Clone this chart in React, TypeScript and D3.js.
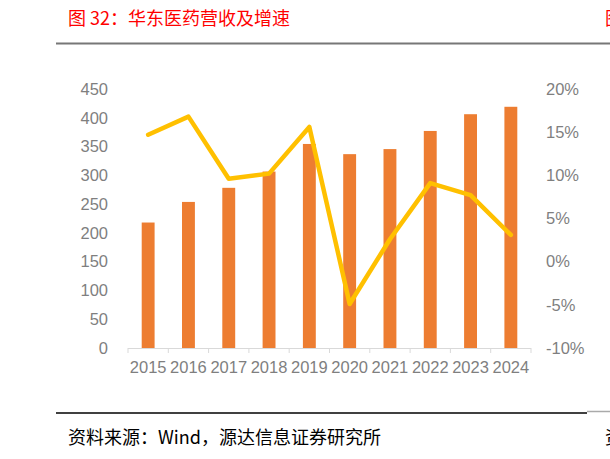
import React, { useRef, useEffect, useCallback } from 'react';
import * as d3 from 'd3';

const years = ['2015', '2016', '2017', '2018', '2019', '2020', '2021', '2022', '2023', '2024'];
// 营业收入（亿元）
const revenue = [218.0, 253.8, 278.3, 306.6, 354.5, 336.8, 345.6, 377.1, 406.2, 419.1];
// 同比增速（%）
const growth = [14.7, 16.8, 9.6, 10.2, 15.6, -4.9, 2.6, 9.1, 7.7, 3.1];
const leftTicks = [0, 50, 100, 150, 200, 250, 300, 350, 400, 450];
const rightTicks = [-10, -5, 0, 5, 10, 15, 20];

const width = 610;
const height = 459;
const plot = { left: 128, right: 531, top: 89, bottom: 348 };
const cjk = '"Noto Sans CJK SC", "Noto Sans", sans-serif';
const num = '"Liberation Sans", Arial, sans-serif';

const App: React.FC = () => {
  const chartRef = useRef(null);

  const draw = useCallback(() => {
    const x = d3
      .scaleBand()
      .domain(years)
      .range([plot.left, plot.right])
      .paddingInner(0.68)
      .paddingOuter(0.34);
    const step = x.step();

    const yLeft = d3.scaleLinear().domain([0, 450]).range([plot.bottom, plot.top]);
    const yRight = d3.scaleLinear().domain([-10, 20]).range([plot.bottom, plot.top]);

    d3.select(chartRef.current).selectAll('svg').remove();
    const svg = d3
      .select(chartRef.current)
      .append('svg')
      .attr('width', width)
      .attr('height', height)
      .attr('viewBox', `0 0 ${width} ${height}`)
      .style('position', 'absolute')
      .style('left', '0px')
      .style('top', '0px')
      .style('background', '#fff');

    /** header */
    svg
      .append('text')
      .attr('x', 68)
      .attr('y', 25)
      .attr('font-family', cjk)
      .attr('font-size', 18)
      .attr('fill', '#ff0000')
      .text('图 32：华东医药营收及增速');
    // next figure's title, cut by the page edge
    svg
      .append('text')
      .attr('x', 605)
      .attr('y', 25)
      .attr('font-family', cjk)
      .attr('font-size', 18)
      .attr('fill', '#ff0000')
      .text('图');
    svg
      .append('line')
      .attr('x1', 56)
      .attr('x2', width)
      .attr('y1', 43.5)
      .attr('y2', 43.5)
      .attr('stroke', '#777')
      .attr('stroke-width', 2);

    /** bars */
    svg
      .append('g')
      .attr('fill', '#ED7D31')
      .selectAll('rect')
      .data(revenue)
      .join('rect')
      .attr('x', (d, i) => x(years[i]) ?? 0)
      .attr('y', (d) => yLeft(d))
      .attr('width', x.bandwidth())
      .attr('height', (d) => yLeft(0) - yLeft(d));

    /** x axis */
    const xAxis = svg.append('g').attr('stroke', '#d9d9d9').attr('stroke-width', 1);
    xAxis
      .append('line')
      .attr('x1', plot.left)
      .attr('x2', plot.right)
      .attr('y1', plot.bottom + 0.5)
      .attr('y2', plot.bottom + 0.5);
    xAxis
      .selectAll('line.tick')
      .data(d3.range(years.length + 1))
      .join('line')
      .attr('class', 'tick')
      .attr('x1', (i) => plot.left + i * step)
      .attr('x2', (i) => plot.left + i * step)
      .attr('y1', plot.bottom)
      .attr('y2', plot.bottom + 5);
    svg
      .append('g')
      .attr('font-family', num)
      .attr('font-size', 16.5)
      .attr('fill', '#7f7f7f')
      .attr('text-anchor', 'middle')
      .selectAll('text')
      .data(years)
      .join('text')
      .attr('x', (d) => (x(d) ?? 0) + x.bandwidth() / 2)
      .attr('y', 372.5)
      .text((d) => d);

    /** y axes */
    const styleAxis = (g: any) => {
      g.select('.domain').remove();
      g.selectAll('text').attr('fill', '#7f7f7f').attr('font-family', num).attr('font-size', 16.5);
    };
    svg
      .append('g')
      .attr('transform', 'translate(108,0)')
      .call(d3.axisLeft(yLeft).tickValues(leftTicks).tickSize(0).tickPadding(0))
      .call(styleAxis);
    svg
      .append('g')
      .attr('transform', 'translate(546,0)')
      .call(
        d3
          .axisRight(yRight)
          .tickValues(rightTicks)
          .tickSize(0)
          .tickPadding(0)
          .tickFormat((d: any) => `${d}%`),
      )
      .call(styleAxis);

    /** growth line */
    const line = d3
      .line<number>()
      .x((d, i) => (x(years[i]) ?? 0) + x.bandwidth() / 2)
      .y((d) => yRight(d));
    svg
      .append('path')
      .datum(growth)
      .attr('d', line)
      .attr('fill', 'none')
      .attr('stroke', '#FFC000')
      .attr('stroke-width', 4.5)
      .attr('stroke-linejoin', 'round')
      .attr('stroke-linecap', 'round');

    /** footer */
    svg
      .append('line')
      .attr('x1', 56)
      .attr('x2', 587)
      .attr('y1', 413)
      .attr('y2', 413)
      .attr('stroke', '#000')
      .attr('stroke-width', 1.5);
    svg
      .append('line')
      .attr('x1', 587)
      .attr('x2', width)
      .attr('y1', 411.5)
      .attr('y2', 411.5)
      .attr('stroke', '#aaa')
      .attr('stroke-width', 1.5);
    svg
      .append('text')
      .attr('x', 68)
      .attr('y', 444)
      .attr('font-family', cjk)
      .attr('font-size', 18)
      .attr('fill', '#000')
      .text('资料来源：Wind，源达信息证券研究所');
    // next figure's source line, cut by the page edge
    svg
      .append('text')
      .attr('x', 605)
      .attr('y', 444)
      .attr('font-family', cjk)
      .attr('font-size', 18)
      .attr('fill', '#000')
      .text('资');
  }, []);

  useEffect(() => {
    draw();
  }, [draw]);

  return <div ref={chartRef} />;
};

export default App;
